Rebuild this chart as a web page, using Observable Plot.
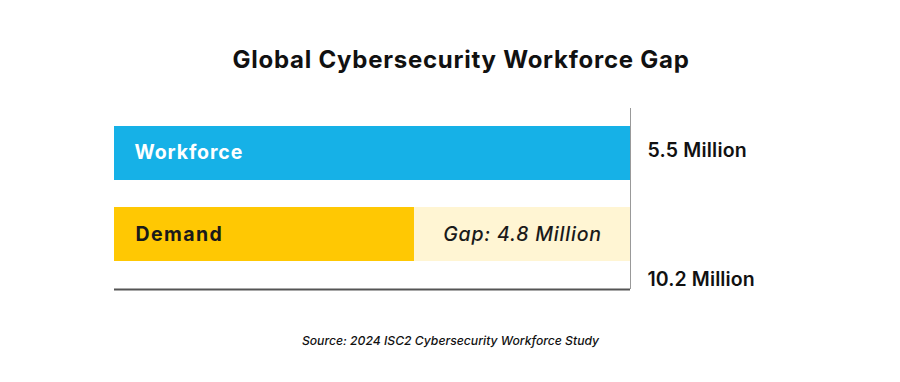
<!DOCTYPE html>
<html><head><meta charset="utf-8">
<script src="https://cdn.jsdelivr.net/npm/d3@7"></script>
<script src="https://cdn.jsdelivr.net/npm/@observablehq/plot@0.6"></script>
<style>
body{margin:0;background:#fff;}
#wrap{position:relative;width:900px;height:382px;overflow:hidden;font-family:Inter,"Noto Sans",sans-serif;background:#fff;}
#title{position:absolute;left:0;width:922px;top:45px;text-align:center;font-weight:700;font-size:24px;letter-spacing:0.75px;line-height:30px;color:#111;}
#source{position:absolute;left:0;width:901px;top:332px;text-align:center;font-style:italic;font-weight:500;font-size:12.2px;line-height:18px;color:#111;}
#chart{position:absolute;left:0;top:0;}
</style>
</head><body>
<div id="wrap">
  <div id="chart"></div>
  <div id="title">Global Cybersecurity Workforce Gap</div>
  <div id="source">Source: 2024 ISC2 Cybersecurity Workforce Study</div>
</div>
<script>
const categories = ["Workforce", "Demand"];
const barRow = ["Workforce", "Demand", "Demand"];
const barKind = ["workforce", "demand", "gap"];
const barStart = [0, 0, 5.93];
const barEnd = [10.2, 5.93, 10.2];
const valueLabels = ["5.5 Million", "10.2 Million"];
const gapLabel = "Gap: 4.8 Million";
const xMax = 10.2;

const bars = barRow.map((r, i) => ({row: r, kind: barKind[i], x1: barStart[i], x2: barEnd[i]}));
const gapMid = (barStart[2] + barEnd[2]) / 2;

const bottomLine = (index, scales, values, dims) => {
  const g = d3.create("svg:line")
    .attr("x1", dims.marginLeft)
    .attr("x2", dims.width - dims.marginRight)
    .attr("y1", dims.height - dims.marginBottom + 0.5)
    .attr("y2", dims.height - dims.marginBottom + 0.5)
    .attr("stroke", "#555")
    .attr("stroke-width", 2);
  return g.node();
};

const plot = Plot.plot({
  width: 900,
  height: 382,
  marginLeft: 114,
  marginRight: 270,
  marginTop: 108,
  marginBottom: 93,
  style: {fontFamily: "Inter, 'Noto Sans', sans-serif", background: "transparent", overflow: "visible"},
  x: {domain: [0, xMax], axis: null},
  y: {type: "band", domain: categories, range: [125, 262], paddingInner: 0.329, paddingOuter: 0, axis: null},
  color: {domain: ["workforce", "demand", "gap"], range: ["#16b1e7", "#ffc803", "#fff5d3"]},
  marks: [
    Plot.barX(bars, {y: "row", x1: "x1", x2: "x2", fill: "kind"}),
    Plot.ruleX([xMax], {stroke: "#999", strokeWidth: 1}),
    bottomLine,
    Plot.text([categories[0]], {x: 0, y: d => d, text: d => d, dx: 20, dy: -1, textAnchor: "start", fill: "white", fontWeight: 700, fontSize: 19.5}),
    Plot.text([categories[1]], {x: 0, y: d => d, text: d => d, dx: 21, textAnchor: "start", fill: "#1a1a1a", fontWeight: 700, fontSize: 19.5}),
    Plot.text([gapLabel], {x: gapMid, y: () => "Demand", text: d => d, fill: "#1a1a1a", fontStyle: "italic", fontWeight: 500, fontSize: 19.5}),
    Plot.text([valueLabels[0]], {x: xMax, y: () => "Workforce", text: d => d, dx: 17, dy: -3, textAnchor: "start", fill: "#111", fontWeight: 600, fontSize: 19.5}),
    Plot.text([valueLabels[1]], {x: xMax, frameAnchor: "bottom", text: d => d, dx: 17, dy: -4, textAnchor: "start", fill: "#111", fontWeight: 600, fontSize: 19.5})
  ]
});
const spacing = {"Workforce": "0.9px", "Demand": "1.4px", "Gap: 4.8 Million": "0.8px", "5.5 Million": "0.2px", "10.2 Million": "0.1px"};
d3.select(plot).selectAll("text").each(function() {
  const s = spacing[this.textContent];
  if (s) this.style.letterSpacing = s;
});
document.getElementById("chart").appendChild(plot);
</script>
</body></html>
